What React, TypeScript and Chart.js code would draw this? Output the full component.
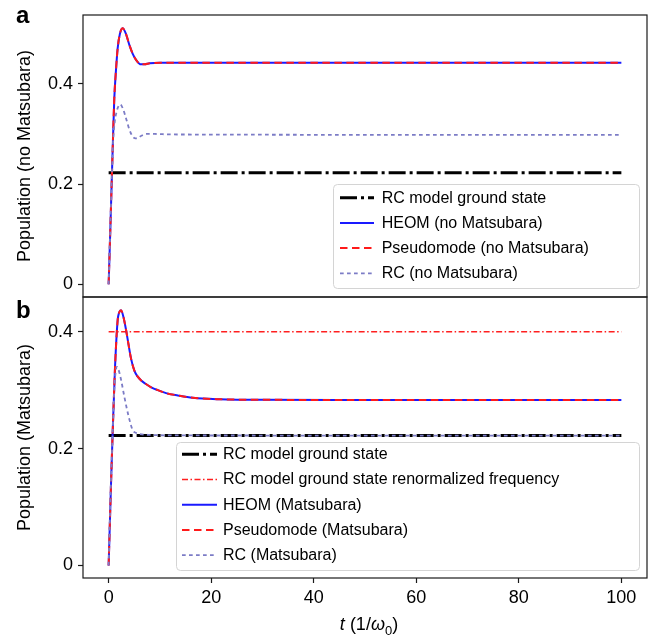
import React, { useEffect, useRef } from "react";
import { Chart, registerables } from "chart.js";

Chart.register(...registerables);
Chart.defaults.font.family = '"Liberation Sans", Arial, Helvetica, sans-serif';
Chart.defaults.color = "#000";

// ---------- data ----------
const xTicks = [0, 20, 40, 60, 80, 100];
const yTicks = [0, 0.2, 0.4];
const lineT = [0, 100];

// Panel a (no Matsubara)
const groundA = [0.2225, 0.2225];
const heomAT = [0, 0.33, 0.66, 1.1, 1.45, 1.76, 2.2, 2.73, 3.3, 4.04, 4.7, 5.35, 6.3, 7.0, 8.0, 10, 100];
const heomAV = [0, 0.11, 0.225, 0.37, 0.43, 0.471, 0.5, 0.511, 0.502, 0.478, 0.46, 0.448, 0.439, 0.439, 0.441, 0.442, 0.442];
const pseudoAT = [0, 0.33, 0.66, 1.1, 1.45, 1.76, 2.2, 2.73, 3.3, 4.04, 4.7, 5.35, 6.3, 7.0, 8.0, 10, 100];
const pseudoAV = [0, 0.11, 0.225, 0.37, 0.43, 0.471, 0.5, 0.511, 0.502, 0.478, 0.46, 0.448, 0.439, 0.439, 0.441, 0.442, 0.442];
const rcAT = [0, 0.35, 0.65, 0.9, 1.2, 1.5, 1.9, 2.28, 2.8, 3.4, 4.0, 4.4, 5.0, 5.5, 6.3, 7.3, 9, 12, 100];
const rcAV = [0, 0.12, 0.225, 0.29, 0.325, 0.342, 0.355, 0.359, 0.35, 0.331, 0.31, 0.3, 0.292, 0.291, 0.296, 0.3, 0.3, 0.299, 0.298];

// Panel b (Matsubara)
const groundB = [0.2225, 0.2225];
const renormB = [0.4, 0.4];
const heomBT = [0, 0.47, 0.78, 1.25, 1.76, 2.05, 2.42, 2.9, 3.4, 3.9, 4.37, 5.0, 5.6, 6.3, 7.2, 8.3, 9.6, 11.2, 13.5, 16.4, 21.6, 30, 50, 100];
const heomBV = [0, 0.141, 0.226, 0.34, 0.42, 0.433, 0.437, 0.425, 0.403, 0.377, 0.354, 0.334, 0.324, 0.317, 0.311, 0.305, 0.3, 0.295, 0.291, 0.287, 0.2845, 0.2835, 0.2833, 0.2833];
const pseudoBT = [0, 0.47, 0.78, 1.25, 1.76, 2.05, 2.42, 2.9, 3.4, 3.9, 4.37, 5.0, 5.6, 6.3, 7.2, 8.3, 9.6, 11.2, 13.5, 16.4, 21.6, 30, 50, 100];
const pseudoBV = [0, 0.141, 0.226, 0.34, 0.42, 0.433, 0.437, 0.425, 0.403, 0.377, 0.354, 0.334, 0.324, 0.317, 0.311, 0.305, 0.3, 0.295, 0.291, 0.287, 0.2845, 0.2835, 0.2833, 0.2833];
const rcBT = [0, 0.4, 0.78, 1.1, 1.35, 1.6, 1.9, 2.42, 3.06, 3.9, 4.68, 5.3, 6.0, 8, 15, 100];
const rcBV = [0, 0.13, 0.226, 0.3, 0.33, 0.34, 0.336, 0.318, 0.289, 0.255, 0.232, 0.227, 0.225, 0.2235, 0.2225, 0.2222];

// ---------- helpers ----------
const FONT = '"Liberation Sans", Arial, Helvetica, sans-serif';
const zip = (ts: number[], vs: number[]) => ts.map((x, i) => ({ x, y: vs[i] }));

const STY = {
  ground: { color: "#000000", width: 3, dash: [17, 4, 3, 4] },
  renorm: { color: "#ff1f1f", width: 1.3, dash: [6, 2.5, 1.5, 2.5] },
  heom: { color: "#1a1aff", width: 2, dash: [] as number[] },
  pseudo: { color: "#ff1a1a", width: 2, dash: [7.5, 4.5] },
  rc: { color: "#7c7cc6", width: 1.8, dash: [3.7, 3.3] },
};

function ds(label: string, data: any[], s: any, order: number) {
  return {
    label,
    data,
    borderColor: s.color,
    backgroundColor: s.color,
    borderWidth: s.width,
    borderDash: s.dash,
    borderCapStyle: "butt",
    pointRadius: 0,
    fill: false,
    cubicInterpolationMode: "monotone",
    order,
  };
}

function framePlugin(letter: string, letterY: number) {
  return {
    id: "frame" + letter,
    afterDraw(chart: any) {
      const { ctx, chartArea: ca } = chart;
      ctx.save();
      ctx.strokeStyle = "#1a1a1a";
      ctx.lineWidth = 1.2;
      ctx.setLineDash([]);
      ctx.strokeRect(ca.left, ca.top, ca.right - ca.left, ca.bottom - ca.top);
      ctx.fillStyle = "#000";
      ctx.font = "bold 24px " + FONT;
      ctx.textBaseline = "alphabetic";
      ctx.textAlign = "left";
      ctx.fillText(letter, 16, letterY);
      ctx.restore();
    },
  };
}

function legendPlugin(id: string, box: any) {
  return {
    id,
    afterDraw(chart: any) {
      const { ctx, chartArea: ca } = chart;
      const x = ca.right - box.right - box.width;
      const y = ca.bottom - box.bottom - box.height;
      ctx.save();
      ctx.beginPath();
      ctx.roundRect(x + 0.5, y + 0.5, box.width, box.height, 4);
      ctx.fillStyle = "rgba(255,255,255,0.85)";
      ctx.fill();
      ctx.strokeStyle = "#d4d4d4";
      ctx.lineWidth = 1;
      ctx.stroke();
      chart.data.datasets.forEach((d: any, i: number) => {
        const cy = y + box.first + i * box.row;
        ctx.beginPath();
        ctx.setLineDash(d.borderDash || []);
        ctx.lineWidth = d.borderWidth;
        ctx.strokeStyle = d.borderColor;
        ctx.lineCap = "butt";
        ctx.moveTo(x + box.hx0, cy);
        ctx.lineTo(x + box.hx1, cy);
        ctx.stroke();
        ctx.setLineDash([]);
        ctx.fillStyle = "#000";
        ctx.font = "16px " + FONT;
        ctx.textBaseline = "middle";
        ctx.textAlign = "left";
        ctx.fillText(d.label, x + box.tx, cy + 0.5);
      });
      ctx.restore();
    },
  };
}

const xTitlePlugin = {
  id: "xtitle",
  afterDraw(chart: any) {
    const { ctx, chartArea: ca } = chart;
    const base = ca.bottom + 52;
    const parts = [
      { t: "t", f: "italic 18px " + FONT, dy: 0 },
      { t: " (1/", f: "18px " + FONT, dy: 0 },
      { t: "ω", f: "italic 18px " + FONT, dy: 0 },
      { t: "0", f: "13px " + FONT, dy: 5 },
      { t: ")", f: "18px " + FONT, dy: 0 },
    ];
    ctx.save();
    let total = 0;
    const widths = parts.map((p) => {
      ctx.font = p.f;
      const w = ctx.measureText(p.t).width;
      total += w;
      return w;
    });
    let x = (ca.left + ca.right) / 2 + 4 - total / 2;
    ctx.fillStyle = "#000";
    ctx.textBaseline = "alphabetic";
    ctx.textAlign = "left";
    parts.forEach((p, i) => {
      ctx.font = p.f;
      ctx.fillText(p.t, x, base + p.dy);
      x += widths[i];
    });
    ctx.restore();
  },
};

function zeroPad(s: any) {
  s.paddingTop = 0;
  s.paddingBottom = 0;
  s.paddingLeft = 0;
  s.paddingRight = 0;
}

function yScale(min: number, max: number, title: string) {
  return {
    type: "linear",
    min,
    max,
    afterBuildTicks: (s: any) => {
      s.ticks = yTicks.map((v) => ({ value: v }));
    },
    afterFit: (s: any) => {
      s.width = 83;
      zeroPad(s);
    },
    ticks: {
      font: { size: 18 },
      color: "#000",
      padding: 5,
      callback: (v: any) => (v === 0 ? "0" : Number(v).toFixed(1)),
    },
    grid: { drawOnChartArea: false, drawTicks: true, tickLength: 5, tickColor: "#1a1a1a", tickWidth: 1.2 },
    border: { display: false },
    title: { display: true, text: title, font: { size: 18 }, color: "#000", padding: { top: 14, bottom: 0 } },
  };
}

function xScale(show: boolean) {
  return {
    type: "linear",
    min: -5,
    max: 105,
    display: show,
    afterBuildTicks: (s: any) => {
      s.ticks = xTicks.map((v) => ({ value: v }));
    },
    afterFit: (s: any) => {
      s.height = show ? 60 : 0;
      zeroPad(s);
    },
    ticks: { font: { size: 18 }, color: "#000", padding: 4, maxRotation: 0 },
    grid: { drawOnChartArea: false, drawTicks: true, tickLength: 5, tickColor: "#1a1a1a", tickWidth: 1.2 },
    border: { display: false },
  };
}

export default function App() {
  const refA = useRef<HTMLCanvasElement>(null);
  const refB = useRef<HTMLCanvasElement>(null);

  useEffect(() => {
    const chartA = new Chart(refA.current as HTMLCanvasElement, {
      type: "line",
      data: {
        datasets: [
          ds("RC model ground state", zip(lineT, groundA), STY.ground, 3),
          ds("HEOM (no Matsubara)", zip(heomAT, heomAV), STY.heom, 2),
          ds("Pseudomode (no Matsubara)", zip(pseudoAT, pseudoAV), STY.pseudo, 1),
          ds("RC (no Matsubara)", zip(rcAT, rcAV), STY.rc, 0),
        ] as any,
      },
      options: {
        responsive: false,
        animation: false,
        events: [],
        layout: { padding: { top: 15, right: 4, bottom: 1, left: 0 } },
        plugins: { legend: { display: false }, tooltip: { enabled: false }, title: { display: false } },
        scales: {
          x: xScale(false),
          y: yScale(-0.0255, 0.5375, "Population (no Matsubara)"),
        } as any,
      },
      plugins: [
        framePlugin("a", 23),
        legendPlugin("legA", { right: 8, bottom: 9, width: 306, height: 104, first: 13.7, row: 25.2, hx0: 7, hx1: 41, tx: 48.7 }),
      ],
    } as any);

    const chartB = new Chart(refB.current as HTMLCanvasElement, {
      type: "line",
      data: {
        datasets: [
          ds("RC model ground state", zip(lineT, groundB), STY.ground, 4),
          ds("RC model ground state renormalized frequency", zip(lineT, renormB), STY.renorm, 3),
          ds("HEOM (Matsubara)", zip(heomBT, heomBV), STY.heom, 2),
          ds("Pseudomode (Matsubara)", zip(pseudoBT, pseudoBV), STY.pseudo, 1),
          ds("RC (Matsubara)", zip(rcBT, rcBV), STY.rc, 0),
        ] as any,
      },
      options: {
        responsive: false,
        animation: false,
        events: [],
        layout: { padding: { top: 1, right: 4, bottom: 0, left: 0 } },
        plugins: { legend: { display: false }, tooltip: { enabled: false }, title: { display: false } },
        scales: {
          x: xScale(true),
          y: yScale(-0.0215, 0.4595, "Population (Matsubara)"),
        } as any,
      },
      plugins: [
        framePlugin("b", 22),
        legendPlugin("legB", { right: 8, bottom: 8, width: 463, height: 128, first: 12.3, row: 25.2, hx0: 6, hx1: 41, tx: 47 }),
        xTitlePlugin,
      ],
    } as any);

    return () => {
      chartA.destroy();
      chartB.destroy();
    };
  }, []);

  return (
    <div style={{ position: "absolute", left: 0, top: 0, width: 651, height: 638, background: "#fff" }}>
      <canvas ref={refA} width={651} height={298} style={{ position: "absolute", left: 0, top: 0, width: 651, height: 298 }} />
      <canvas ref={refB} width={651} height={342} style={{ position: "absolute", left: 0, top: 296, width: 651, height: 342 }} />
    </div>
  );
}
